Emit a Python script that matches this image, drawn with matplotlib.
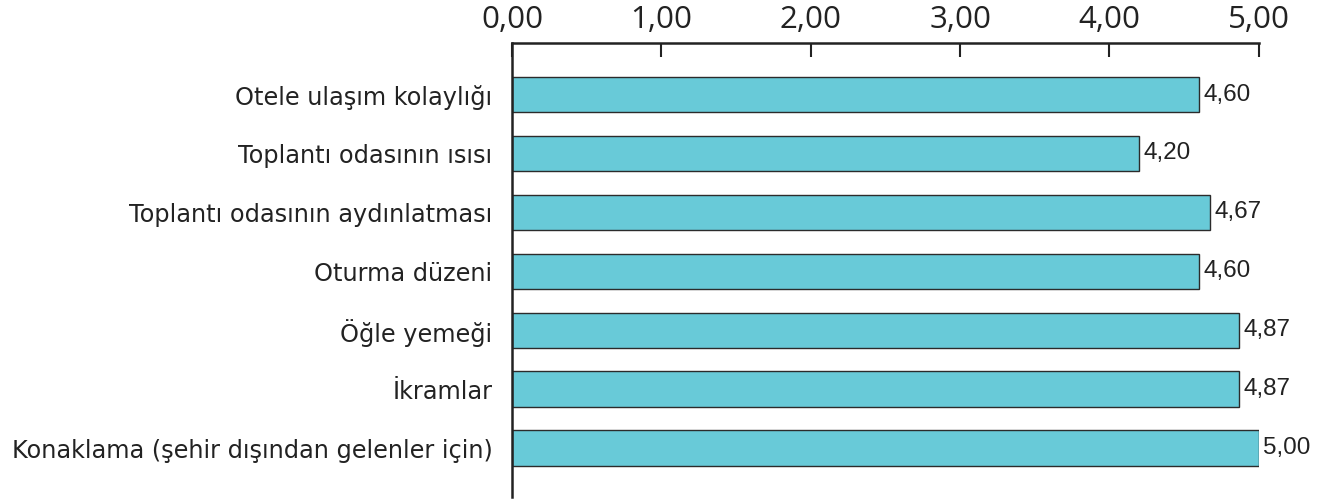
import matplotlib.pyplot as plt

# Values
categories = [
    'Otele ulaşım kolaylığı',
    'Toplantı odasının ısısı',
    'Toplantı odasının aydınlatması',
    'Oturma düzeni',
    'Öğle yemeği',
    'İkramlar',
    'Konaklama (şehir dışından gelenler için)',
]
scores = [4.60, 4.20, 4.67, 4.60, 4.87, 4.87, 5.00]
tick_values = [0, 1, 2, 3, 4, 5]

fig = plt.figure(figsize=(13.3, 5.04), dpi=100)
ax = fig.add_axes([0.385, 0.0139, 0.5615, 0.9008])

y = list(range(len(categories)))
ax.barh(y, scores, height=0.6, color='#68CAD8', edgecolor='#2b2b2b', linewidth=1.0)

for yi, v in zip(y, scores):
    ax.text(v + 0.03, yi, f'{v:.2f}'.replace('.', ','), va='center', ha='left',
            fontsize=17.5, family='Liberation Sans', color='#222222')

ax.set_xlim(0, 5)
ax.set_ylim(len(categories) - 1 + 0.83, -0.875)

ax.xaxis.tick_top()
ax.set_xticks(tick_values)
ax.set_xticklabels([f'{t:.2f}'.replace('.', ',') for t in tick_values],
                   fontsize=22.5, family='Open Sans', color='#222222')
ax.tick_params(axis='x', direction='in', length=10, width=1.5, pad=6, color='#222222')

ax.set_yticks(y)
ax.set_yticklabels(categories, fontsize=17.3, family='DejaVu Sans', color='#222222')
ax.tick_params(axis='y', length=0, pad=14)

for side in ['right', 'bottom']:
    ax.spines[side].set_visible(False)
for side in ['top', 'left']:
    ax.spines[side].set_linewidth(1.8)
    ax.spines[side].set_color('#222222')

fig.savefig('out.png', dpi=100)
